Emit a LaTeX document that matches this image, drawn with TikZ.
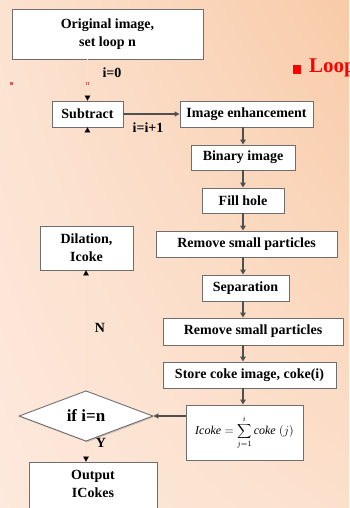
\documentclass[tikz,border=0pt]{standalone}
\usepackage{fontspec}
\setmainfont{Liberation Serif}
\usetikzlibrary{arrows.meta,shapes.geometric,shadows,shadings}
\definecolor{bgUL}{HTML}{FCE2D0}
\definecolor{bgUR}{HTML}{F8CBA8}
\definecolor{bgLL}{HTML}{FDE9DD}
\definecolor{bgLR}{HTML}{FCE0CC}
\definecolor{ghostc}{HTML}{FBE0CE}
\definecolor{linec}{HTML}{505050}
\definecolor{boxline}{HTML}{6E6E6E}
\definecolor{dotred}{HTML}{E05858}
\begin{document}
\begin{tikzpicture}[x=1pt,y=-1pt,
  box/.style={draw=boxline, fill=white, line width=0.9pt, inner sep=0pt,
    font=\bfseries\fontsize{14}{18}\selectfont, align=center,
    drop shadow={shadow xshift=1.2pt, shadow yshift=-1.2pt, opacity=0.35}},
  conn/.style={draw=linec, line width=1.6pt, -{Triangle[length=5pt,width=5.5pt]}},
  hconn/.style={draw=linec, line width=1.1pt, -{Triangle[length=5pt,width=5pt]}},
  ghost/.style={draw=ghostc, line width=0.05pt, -{Triangle[length=5pt,width=5.5pt,color=black]}},
  lbl/.style={font=\bfseries\fontsize{14}{16}\selectfont, inner sep=0pt}
]
\shade[upper left=bgUL, upper right=bgUR, lower left=bgLL, lower right=bgLR] (0,0) rectangle (349,508);
\clip (0,0) rectangle (349,508);

% red marks
\fill[dotred] (9.5,82) rectangle (13,85);
\fill[dotred] (85.5,82) rectangle (89,85);
\node[fill=red, inner sep=0pt, minimum width=8pt, minimum height=9pt] (bullet) at (297,69.5) {};
\node[font=\bfseries\fontsize{21}{23}\selectfont, text=red, anchor=west, inner sep=0pt] (loop) at (309,68) {Loop};

% boxes
\node[box, minimum width=191, minimum height=50] (orig) at (107.5,34) {Original image,\\set loop n};
\node[box, minimum width=71, minimum height=26] (sub) at (87.5,114) {Subtract};
\node[box, minimum width=133, minimum height=26] (enh) at (246.5,114) {Image enhancement};
\node[box, minimum width=104, minimum height=25] (bin) at (243,157.5) {Binary image};
\node[box, minimum width=82, minimum height=25] (fill) at (243,200.5) {Fill hole};
\node[box, minimum width=181, minimum height=26] (rem1) at (246.5,244) {Remove small particles};
\node[box, minimum width=87, minimum height=26] (sep) at (245.5,288) {Separation};
\node[box, minimum width=180, minimum height=27] (rem2) at (253,331.5) {Remove small particles};
\node[box, minimum width=173, minimum height=26] (store) at (249.5,375) {Store coke image, coke(i)};
\node[box, minimum width=117, minimum height=55, font=\fontsize{12}{14}\selectfont] (frm) at (244.5,432.5)
  {$\textit{Icoke}=\displaystyle\sum_{j=1}^{i}\textit{coke}\;(j)$};
\node[box, diamond, minimum width=134, minimum height=44, font=\bfseries\fontsize{17}{19}\selectfont] (dia) at (86,416) {if i=n};
\node[box, minimum width=93, minimum height=44] (dil) at (86.5,248) {Dilation,\\Icoke};
\node[box, minimum width=128, minimum height=58,
  label={[lbl, anchor=north, yshift=-8.5pt, align=center, font=\bfseries\fontsize{14}{18}\selectfont]north:{Output\\ICokes}}] (out) at (93,491) {};

% labels
\node[lbl] (l0) at (112,73) {i=0};
\node[lbl] (l1) at (148,128) {i=i+1};
\node[lbl] (ln) at (100,328) {N};
\node[lbl] (ly) at (101,443) {Y};

% connectors
\draw[ghost] (sub |- orig.south) -- (sub.north);
\draw[hconn] (sub.east) -- (enh.west);
\draw[conn] (enh.south -| bin) -- (bin.north);
\draw[conn] (bin.south) -- (fill.north);
\draw[conn] (fill.south) -- (fill.south |- rem1.north);
\draw[conn] (fill.south |- rem1.south) -- (fill.south |- sep.north);
\draw[conn] (fill.south |- sep.south) -- (fill.south |- rem2.north);
\draw[conn] (fill.south |- rem2.south) -- (fill.south |- store.north);
\draw[conn] (fill.south |- store.south) -- (fill.south |- frm.north);
\draw[hconn] (frm.west |- dia.east) -- (dia.east);
\draw[ghost] (dia.south) -- (dia.south |- out.north);
\draw[ghost] (dia.north) -- (dia.north |- dil.south);
\draw[ghost] (dil.north) -- (sub.south);
\end{tikzpicture}
\end{document}
